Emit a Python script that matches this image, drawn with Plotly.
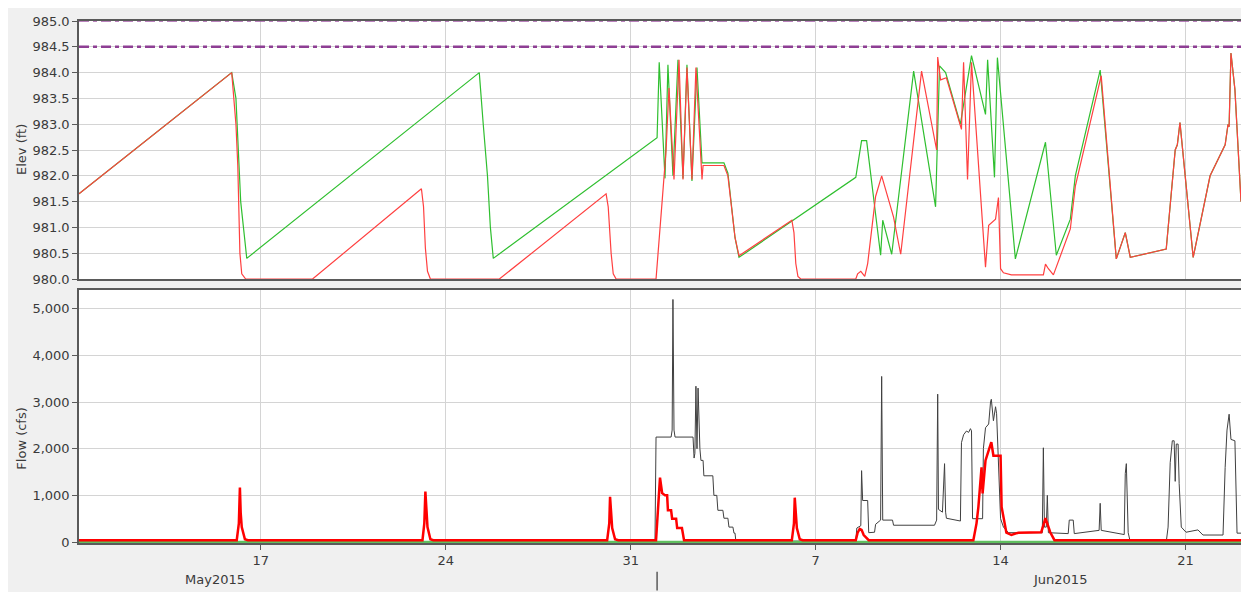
import pandas as pd
import plotly.graph_objects as go

# ---------------- data (time = days since 2015-05-10 00:00) ----------------
BASE = pd.Timestamp("2015-05-10")
T_START, T_END = 0.12, 44.10

# limit elevations (ft)
limit_levels = [985.0, 984.5]

# pool elevation, red series
elev_red_t = [0.12, 5.90, 6.06, 6.13, 6.21, 6.28, 6.43, 8.96, 13.08, 13.16, 13.23, 13.31, 13.42,
              16.03, 20.07, 20.15, 20.26, 20.34, 20.45, 21.96, 22.19, 22.34, 22.45, 22.64, 22.83,
              22.98, 23.13, 23.32, 23.47, 23.70, 23.74, 24.53, 24.68, 24.83, 24.95, 25.10, 27.10,
              27.18, 27.25, 27.33, 27.44, 29.52, 29.59, 29.71, 29.78, 29.86, 29.97, 30.12, 30.27,
              30.50, 30.95, 31.22, 32.01, 32.58, 32.62, 32.73, 32.95, 33.52, 33.60, 33.75, 33.90,
              34.43, 34.55, 34.81, 34.92, 35.00, 35.11, 35.41, 36.62, 36.70, 36.81, 37.00, 37.64,
              37.83, 38.81, 39.38, 39.72, 39.91, 41.27, 41.61, 41.69, 41.79, 42.29, 42.93, 43.50,
              43.61, 43.65, 43.72, 43.87, 44.10]
elev_red = [981.65, 984.0, 983.0, 982.2, 980.5, 980.1, 980.0, 980.0, 981.75, 981.4, 980.6, 980.15, 980.0,
            980.0, 981.65, 981.4, 980.5, 980.1, 980.0, 980.0, 981.5, 982.5, 983.7, 981.93, 984.25,
            981.93, 984.1, 981.93, 984.1, 981.93, 982.2, 982.2, 982.0, 981.3, 980.8, 980.45, 981.14,
            980.9, 980.3, 980.05, 980.0, 980.0, 980.1, 980.15, 980.1, 980.05, 980.3, 980.9, 981.6,
            982.0, 981.2, 980.48, 984.03, 982.5, 984.3, 983.86, 983.9, 982.9, 984.2, 981.93, 984.2,
            980.23, 981.04, 981.16, 981.58, 980.2, 980.12, 980.08, 980.08, 980.29, 980.2, 980.08, 980.97,
            981.8, 983.94, 980.39, 980.9, 980.42, 980.58, 982.5, 982.6, 983.03, 980.42, 982.0, 982.6,
            983.0, 982.95, 984.38, 983.67, 981.5]

# pool elevation, green series
elev_green_t = [0.12, 5.90, 6.06, 6.13, 6.24, 6.47, 15.27, 15.42, 15.58, 15.69, 15.80, 22.00, 22.08,
                22.30, 22.41, 22.60, 22.79, 22.98, 23.13, 23.32, 23.51, 23.70, 24.53, 24.68, 24.83,
                24.95, 25.10, 29.52, 29.74, 29.93, 30.46, 30.54, 30.88, 31.71, 32.54, 32.69, 32.92,
                33.48, 33.90, 34.43, 34.51, 34.77, 34.88, 35.56, 36.70, 37.11, 37.64, 37.83, 38.77,
                39.38, 39.72, 39.91, 41.27, 41.61, 41.69, 41.79, 42.29, 42.93, 43.50, 43.61, 43.65,
                43.72, 43.87, 44.10]
elev_green = [981.65, 984.0, 983.5, 982.6, 981.5, 980.4, 984.0, 983.0, 982.0, 981.0, 980.4, 982.74, 984.2,
              981.95, 984.15, 982.0, 984.25, 981.95, 984.15, 981.9, 984.1, 982.25, 982.25, 982.05, 981.3,
              980.8, 980.42, 981.97, 982.68, 982.68, 980.46, 981.14, 980.48, 984.03, 981.4, 984.13, 984.0,
              983.0, 984.33, 983.19, 984.25, 981.97, 984.29, 980.39, 982.65, 980.46, 981.16, 982.0, 984.05,
              980.39, 980.9, 980.42, 980.58, 982.5, 982.6, 983.03, 980.42, 982.0, 982.6, 983.0, 982.95,
              984.38, 983.67, 981.5]

# inflow (black)
flow_in_t = [0.12, 21.92, 21.96, 22.53, 22.57, 22.60, 22.64, 22.68, 23.36, 23.40, 23.43, 23.47, 23.51,
             23.55, 23.62, 23.66, 23.74, 23.77, 24.11, 24.15, 24.26, 24.30, 24.49, 24.53, 24.68, 24.72,
             24.87, 24.91, 24.95, 24.98, 29.52, 29.56, 29.71, 29.74, 29.78, 29.97, 30.01, 30.23, 30.27,
             30.46, 30.50, 30.54, 30.91, 30.95, 32.50, 32.58, 32.62, 32.65, 32.80, 32.88, 32.92, 32.95,
             33.48, 33.52, 33.60, 33.71, 33.79, 33.86, 33.90, 33.94, 34.32, 34.35, 34.43, 34.55, 34.62,
             34.65, 34.73, 34.81, 34.85, 34.92, 35.00, 35.11, 35.30, 36.58, 36.62, 36.66, 36.73, 36.77,
             36.81, 37.56, 37.60, 37.75, 37.79, 38.73, 38.77, 38.81, 39.68, 39.72, 39.76, 39.83, 39.91,
             41.27, 41.34, 41.42, 41.50, 41.57, 41.61, 41.65, 41.72, 41.76, 41.84, 42.02, 42.47, 42.66,
             43.42, 43.50, 43.57, 43.65, 43.72, 43.87, 43.95, 44.10]
flow_in = [0, 0, 2250, 2250, 2400, 5200, 2400, 2250, 2250, 1800, 1900, 3340, 2000,
           3300, 2000, 1750, 1750, 1420, 1420, 1000, 1000, 680, 680, 510, 510, 320,
           320, 190, 190, 20, 20, 300, 350, 1530, 890, 890, 200, 210, 380,
           470, 3550, 470, 470, 360, 360, 470, 3170, 700, 640, 1680, 640, 510,
           450, 2130, 2300, 2380, 2350, 2430, 2380, 500, 500, 2000, 2450, 2530, 3000,
           3060, 2600, 2900, 2750, 1740, 500, 320, 200, 200, 2020, 320, 320, 1000,
           200, 180, 470, 470, 180, 250, 830, 250, 160, 1470, 1680, 200, 0,
           0, 320, 1700, 2170, 2170, 1300, 2100, 2100, 1250, 320, 210, 260, 150,
           150, 1600, 2400, 2740, 2200, 2170, 190, 190]

# outflow (red)
flow_out_t = [0.12, 6.09, 6.17, 6.21, 6.24, 6.28, 6.40, 6.51, 13.12, 13.19, 13.23, 13.27, 13.31, 13.42,
              13.53, 20.11, 20.19, 20.22, 20.26, 20.30, 20.41, 20.53, 21.96, 22.04, 22.11, 22.19, 22.30,
              22.38, 22.41, 22.53, 22.57, 22.72, 22.76, 22.94, 23.02, 27.10, 27.18, 27.21, 27.25, 27.29,
              27.40, 27.51, 29.52, 29.59, 29.67, 29.74, 29.82, 29.90, 30.01, 33.97, 34.09, 34.16, 34.28,
              34.32, 34.43, 34.65, 34.73, 35.00, 35.04, 35.22, 35.41, 35.67, 36.54, 36.70, 36.88, 37.04,
              44.10]
flow_out = [40, 40, 400, 1170, 620, 320, 60, 40, 40, 400, 1080, 600, 320, 60,
            40, 40, 400, 970, 560, 300, 60, 40, 40, 700, 1380, 1050, 1000,
            1000, 680, 680, 500, 500, 300, 300, 40, 40, 400, 950, 550, 300,
            60, 40, 40, 200, 280, 260, 150, 100, 40, 40, 400, 750, 1600,
            1040, 1750, 2140, 1850, 1850, 750, 200, 150, 200, 210, 510, 210, 40,
            40]

# green flow series
flow_green_t = [T_START, T_END]
flow_green = [0, 0]

# axis ticks
week_ticks = ["2015-05-17", "2015-05-24", "2015-05-31", "2015-06-07", "2015-06-14", "2015-06-21"]
week_labels = ["17", "24", "31", "7", "14", "21"]
elev_ticks = [980.0 + 0.5 * i for i in range(11)]
flow_ticks = [0, 1000, 2000, 3000, 4000, 5000]


def to_dt(days):
    return [BASE + pd.Timedelta(days=float(d)) for d in days]


x0, x1 = to_dt([T_START, T_END])

RED_L = "#ff4040"
GREEN_L = "#2fbf2f"
PURPLE = "#8e3f94"
FONT = "DejaVu Sans"

fig = go.Figure()

# ---- top panel ----
fig.add_trace(go.Scatter(x=[x0, x1], y=[limit_levels[0]] * 2, mode="lines", xaxis="x", yaxis="y",
                         line=dict(color="#a45aa8", width=1.5, dash="10px,4px,4px,4px"),
                         hoverinfo="skip", showlegend=False))
fig.add_trace(go.Scatter(x=[x0, x1], y=[limit_levels[1]] * 2, mode="lines", xaxis="x", yaxis="y",
                         line=dict(color=PURPLE, width=2.5, dash="10px,4px,4px,4px"),
                         hoverinfo="skip", showlegend=False))
fig.add_trace(go.Scatter(x=to_dt(elev_green_t), y=elev_green, mode="lines", xaxis="x", yaxis="y",
                         line=dict(color=GREEN_L, width=1.2), showlegend=False))
fig.add_trace(go.Scatter(x=to_dt(elev_red_t), y=elev_red, mode="lines", xaxis="x", yaxis="y",
                         line=dict(color=RED_L, width=1.2), showlegend=False))

# ---- bottom panel ----
fig.add_trace(go.Scatter(x=to_dt(flow_in_t), y=flow_in, mode="lines", xaxis="x2", yaxis="y2",
                         line=dict(color="#404040", width=1), showlegend=False))
fig.add_trace(go.Scatter(x=to_dt(flow_green_t), y=flow_green, mode="lines", xaxis="x2", yaxis="y2",
                         line=dict(color="#5fbf5f", width=2.5), showlegend=False))
fig.add_trace(go.Scatter(x=to_dt(flow_out_t), y=flow_out, mode="lines", xaxis="x2", yaxis="y2",
                         line=dict(color="#ff0000", width=2.5), showlegend=False))

GRID = "#d4d4d4"
FRAME = "#5a5a5a"
TICKFONT = dict(family=FONT, size=13, color="#3a3a3a")

common_x = dict(type="date", range=[x0, x1], tickvals=week_ticks, ticktext=week_labels,
                showgrid=True, gridcolor=GRID, gridwidth=1, showline=True, linecolor=FRAME,
                linewidth=1.5, mirror=True, zeroline=False, tickfont=TICKFONT)

fig.update_layout(
    width=1241, height=584,
    margin=dict(l=71, r=6, t=9, b=49),
    paper_bgcolor="#f0f0f0", plot_bgcolor="#ffffff",
    showlegend=False,
    xaxis=dict(**common_x, anchor="y", domain=[0, 1], showticklabels=False, ticks="", matches="x2",
               layer="below traces"),
    xaxis2=dict(**common_x, anchor="y2", domain=[0, 1], ticks="outside", ticklen=5,
                tickcolor=FRAME, tickwidth=1),
    yaxis=dict(domain=[0.5057, 1], range=[980, 985], tickvals=elev_ticks, tickformat=".1f",
               showgrid=True, gridcolor=GRID, showline=True, linecolor=FRAME, linewidth=1.5,
               mirror=True, zeroline=False, ticks="outside", ticklen=5, tickcolor=FRAME,
               tickfont=TICKFONT, layer="below traces"),
    yaxis2=dict(domain=[0, 0.4848], range=[-21, 5404], tickvals=flow_ticks, tickformat=",",
                showgrid=True, gridcolor=GRID, showline=True, linecolor=FRAME, linewidth=1.5,
                mirror=True, zeroline=False, ticks="outside", ticklen=5, tickcolor=FRAME,
                tickfont=TICKFONT),
    annotations=[
        dict(text="Elev (ft)", xref="paper", yref="paper", x=-0.049, y=0.753, textangle=-90,
             showarrow=False, font=dict(family=FONT, size=13, color="#3a3a3a"),
             xanchor="center", yanchor="middle"),
        dict(text="Flow (cfs)", xref="paper", yref="paper", x=-0.049, y=0.200, textangle=-90,
             showarrow=False, font=dict(family=FONT, size=13, color="#3a3a3a"),
             xanchor="center", yanchor="middle"),
        dict(text="May2015", xref="x2", yref="paper", x=to_dt([5.26])[0], y=-0.0703,
             showarrow=False, font=dict(family=FONT, size=13, color="#3a3a3a"),
             xanchor="center", yanchor="middle"),
        dict(text="Jun2015", xref="x2", yref="paper", x=to_dt([37.26])[0], y=-0.0703,
             showarrow=False, font=dict(family=FONT, size=13, color="#3a3a3a"),
             xanchor="center", yanchor="middle"),
    ],
    shapes=[
        dict(type="line", xref="x2", yref="paper", x0=to_dt([22.0])[0], x1=to_dt([22.0])[0],
             y0=-0.055, y1=-0.091, line=dict(color=FRAME, width=1.5)),
    ],
)

fig.write_html("out.html")
